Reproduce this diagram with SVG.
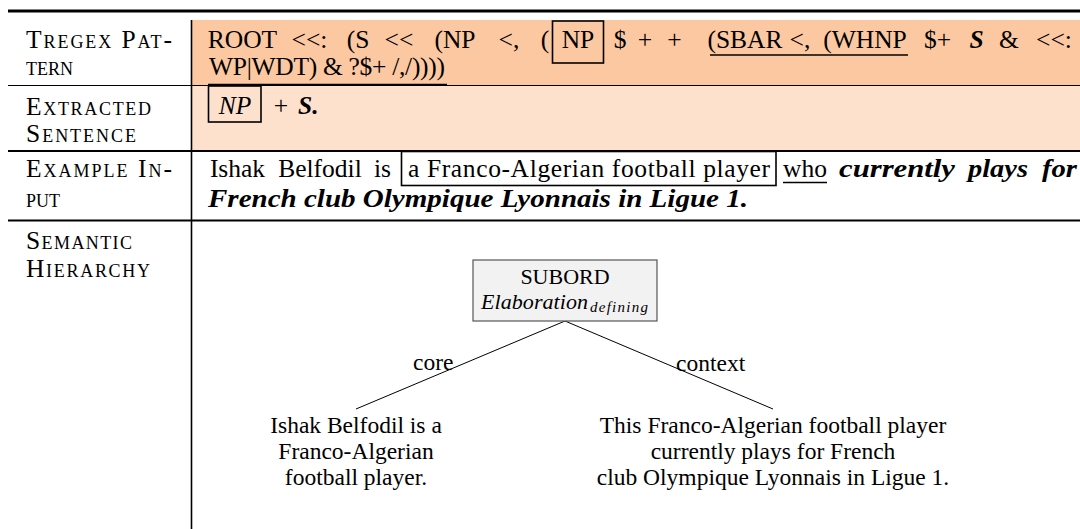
<svg xmlns="http://www.w3.org/2000/svg" width="1080" height="529" viewBox="0 0 1080 529">
<style>
text{font-family:"Liberation Serif","Times New Roman",serif;font-size:25.5px;fill:#000}
.sc{font-variant:small-caps}
.i{font-style:italic}
.bi{font-weight:bold;font-style:italic}
.m{text-anchor:middle}
.tr{font-size:23.5px}
.nd{font-size:22px}
.sub{font-size:15px;font-style:italic}
.rule{stroke:#000;fill:none}
.box{fill:none;stroke:#000;stroke-width:1.6}
</style>
<rect width="1080" height="529" fill="#fff"/>
<g id="table">
  <rect x="191" y="20" width="889" height="65.5" fill="#FCC8A2"/>
  <rect x="191" y="85.5" width="889" height="65.5" fill="#FDE1CD"/>
  <line class="rule" x1="8" y1="11" x2="1080" y2="11" stroke-width="3"/>
  <line class="rule" x1="8" y1="85.5" x2="1080" y2="85.5" stroke-width="1"/>
  <line class="rule" x1="8" y1="151" x2="1080" y2="151" stroke-width="2"/>
  <line class="rule" x1="8" y1="220.5" x2="1080" y2="220.5" stroke-width="2"/>
  <line class="rule" x1="191.5" y1="20" x2="191.5" y2="529" stroke-width="1.6"/>
</g>
<g id="labels">
  <text class="sc" x="26" y="47.5" textLength="146">Tregex Pat-</text>
  <text class="sc" x="26" y="75">tern</text>
  <text class="sc" x="26" y="114.5" textLength="125">Extracted</text>
  <text class="sc" x="26" y="141.5" textLength="110">Sentence</text>
  <text class="sc" x="26" y="177" textLength="146">Example In-</text>
  <text class="sc" x="26" y="206.5">put</text>
  <text class="sc" x="26" y="248.5" textLength="106">Semantic</text>
  <text class="sc" x="26" y="276.5" textLength="124">Hierarchy</text>
</g>
<g id="pattern">
  <text class="m" x="242.5" y="47.5">ROOT</text>
  <text class="m" x="309.5" y="47.5">&lt;&lt;:</text>
  <text class="m" x="358" y="47.5">(S</text>
  <text class="m" x="399" y="47.5">&lt;&lt;</text>
  <text class="m" x="455" y="47.5">(NP</text>
  <text class="m" x="509" y="47.5">&lt;,</text>
  <text class="m" x="545" y="47.5">(</text>
  <rect class="box" x="552.5" y="21" width="51" height="42"/>
  <text class="m" x="578" y="47.5">NP</text>
  <text class="m" x="620" y="47.5">$</text>
  <text class="m" x="645" y="47.5">+</text>
  <text class="m" x="674.5" y="47.5">+</text>
  <text class="m" x="745" y="47.5">(SBAR</text>
  <text class="m" x="800" y="47.5">&lt;,</text>
  <text class="m" x="865" y="47.5">(WHNP</text>
  <line class="rule" x1="710" y1="55" x2="908" y2="55" stroke-width="1.6"/>
  <text class="m" x="937.5" y="47.5">$+</text>
  <text class="bi m" x="976.5" y="47.5">S</text>
  <text class="m" x="1009" y="47.5">&amp;</text>
  <text class="m" x="1054" y="47.5">&lt;&lt;:</text>
  <text x="209" y="75" textLength="236">WP|WDT) &amp; ?$+ /,/))))</text>
  <line class="rule" x1="208" y1="84.5" x2="447" y2="84.5" stroke-width="1.6"/>
</g>
<g id="extracted">
  <rect class="box" x="208.5" y="86" width="52.5" height="36"/>
  <text class="i m" x="235" y="114">NP</text>
  <text class="m" x="281" y="114">+</text>
  <text class="bi" x="298" y="114">S.</text>
</g>
<g id="example">
  <text class="m" x="237.5" y="177">Ishak</text>
  <text class="m" x="320" y="177">Belfodil</text>
  <text class="m" x="382.5" y="177">is</text>
  <rect class="box" x="401.5" y="151.5" width="374.5" height="34"/>
  <text x="408" y="177" textLength="362">a Franco-Algerian football player</text>
  <text class="m" x="805" y="177">who</text>
  <line class="rule" x1="783" y1="182.5" x2="827" y2="182.5" stroke-width="1.4"/>
  <text class="bi" x="839" y="177" textLength="116" lengthAdjust="spacingAndGlyphs">currently</text>
  <text class="bi" x="968" y="177" textLength="60" lengthAdjust="spacingAndGlyphs">plays</text>
  <text class="bi" x="1042" y="177" textLength="35" lengthAdjust="spacingAndGlyphs">for</text>
  <text class="bi" x="208" y="206.5" textLength="540" lengthAdjust="spacingAndGlyphs">French club Olympique Lyonnais in Ligue 1.</text>
</g>
<g id="connectors">
  <line class="rule" x1="565" y1="321" x2="356" y2="409" stroke-width="1"/>
  <line class="rule" x1="565" y1="321" x2="773" y2="409" stroke-width="1"/>
  <text class="tr" x="413" y="370">core</text>
  <text class="tr" x="676" y="371">context</text>
</g>
<g id="node-subord">
  <rect x="473" y="260" width="184" height="61" fill="#F2F2F2" stroke="#555" stroke-width="1.2"/>
  <text class="nd m" x="565" y="284">SUBORD</text>
  <text class="nd i" x="481" y="308.5" textLength="107">Elaboration</text>
  <text class="sub" x="590" y="312" textLength="58">defining</text>
</g>
<g id="node-core">
  <text class="tr m" x="356" y="433">Ishak Belfodil is a</text>
  <text class="tr m" x="356" y="459">Franco-Algerian</text>
  <text class="tr m" x="356" y="485">football player.</text>
</g>
<g id="node-context">
  <text class="tr m" x="773" y="433">This Franco-Algerian football player</text>
  <text class="tr m" x="773" y="459">currently plays for French</text>
  <text class="tr m" x="773" y="485">club Olympique Lyonnais in Ligue 1.</text>
</g>
</svg>
